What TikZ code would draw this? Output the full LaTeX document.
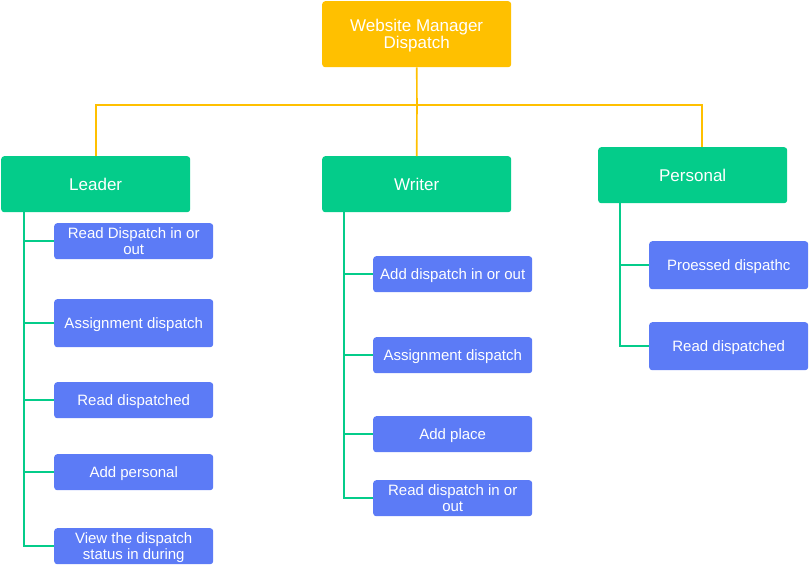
\documentclass[tikz,border=0pt]{standalone}
\usepackage{fontspec}
\setmainfont{Liberation Sans}
\definecolor{rootc}{RGB}{255,192,0}
\definecolor{grn}{RGB}{4,204,138}
\definecolor{blu}{RGB}{92,123,246}
\begin{document}
\begin{tikzpicture}[x=1pt,y=-1pt,
  base/.style={anchor=north west,rounded corners=3pt,text=white,align=center,inner sep=0pt,text depth=0pt},
  rootbox/.style={base,fill=rootc,minimum width=189pt,minimum height=66pt,font=\fontsize{17}{17}\selectfont},
  catbox/.style={base,fill=grn,minimum width=189pt,minimum height=56pt,font=\fontsize{17}{17}\selectfont},
  itembox/.style={base,fill=blu,minimum width=159pt,font=\fontsize{15}{15.5}\selectfont},
  tall/.style={minimum height=48pt},
  short/.style={minimum height=36pt},
  oline/.style={draw=rootc,line width=1.6pt},
  gline/.style={draw=grn,line width=1.6pt}]
\useasboundingbox (0,0) rectangle (809,566);
% root and categories
\node[rootbox] (root) at (322,1) {Website Manager\\Dispatch};
\node[catbox] (leader) at (1,156) {Leader};
\node[catbox] (writer) at (322,156) {Writer};
\node[catbox] (personal) at (598,147) {Personal};
\coordinate (hub) at (417,105);
\coordinate (pdrop) at (702,147);
\draw[oline] (root.south) -- (hub);
\draw[oline] (hub) -| (leader.north);
\draw[oline] (hub) -| (pdrop);
\draw[oline] (hub) -- (writer.north);
% leader children
\node[itembox,short] (l1) at (54,223) {Read Dispatch in or\\out};
\node[itembox,tall] (l2) at (54,299) {Assignment dispatch};
\node[itembox,short] (l3) at (54,382) {Read dispatched};
\node[itembox,short] (l4) at (54,454) {Add personal};
\node[itembox,short] (l5) at (54,528) {View the dispatch\\status in during};
\coordinate (lx) at (24,212);
\foreach \n in {l1,l2,l3,l4,l5}{\draw[gline] (\n.west) -| (lx);}
% writer children
\node[itembox,short] (w1) at (373,256) {Add dispatch in or out};
\node[itembox,short] (w2) at (373,337) {Assignment dispatch};
\node[itembox,short] (w3) at (373,416) {Add place};
\node[itembox,short] (w4) at (373,480) {Read dispatch in or\\out};
\coordinate (wx) at (344,212);
\foreach \n in {w1,w2,w3,w4}{\draw[gline] (\n.west) -| (wx);}
% personal children
\node[itembox,tall] (p1) at (649,241) {Proessed dispathc};
\node[itembox,tall] (p2) at (649,322) {Read dispatched};
\coordinate (px) at (620,203);
\foreach \n in {p1,p2}{\draw[gline] (\n.west) -| (px);}
\end{tikzpicture}
\end{document}
